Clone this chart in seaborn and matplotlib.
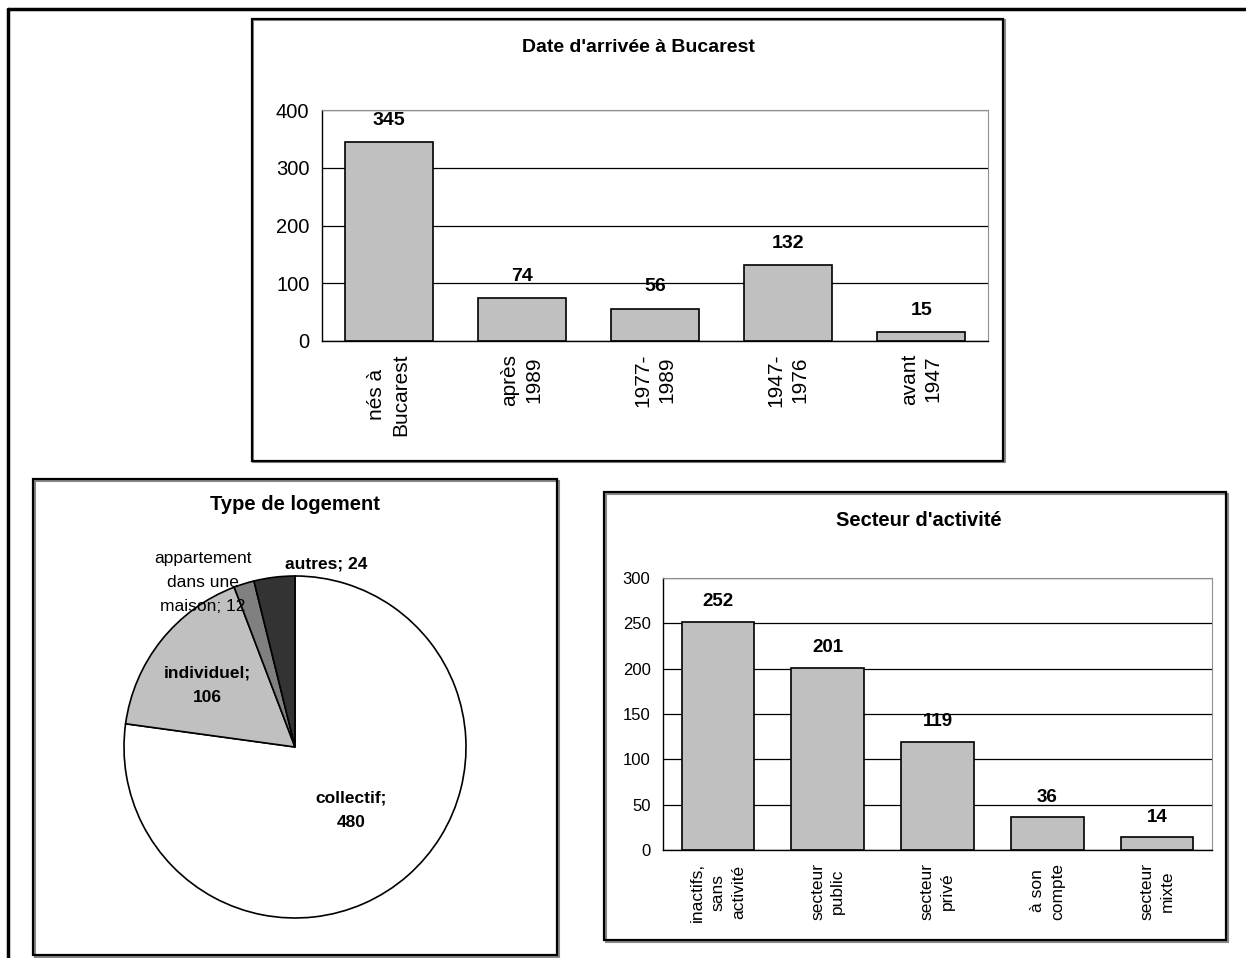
import matplotlib
matplotlib.use("Agg")
import matplotlib.pyplot as plt
from matplotlib.patches import Rectangle
from matplotlib.lines import Line2D
import seaborn as sns

# --- data ---
arrivee_cats = ["nés à\nBucarest", "après\n1989", "1977-\n1989", "1947-\n1976", "avant\n1947"]
arrivee_vals = [345, 74, 56, 132, 15]

logement_cats = ["collectif", "individuel", "appartement dans une maison", "autres"]
logement_vals = [480, 106, 12, 24]
logement_labels = ["collectif;\n480", "individuel;\n106", "appartement\ndans une\nmaison; 12", "autres; 24"]
logement_colors = ["#ffffff", "#c0c0c0", "#808080", "#333333"]

secteur_cats = ["inactifs,\nsans\nactivité", "secteur\npublic", "secteur\nprivé", "à son\ncompte", "secteur\nmixte"]
secteur_vals = [252, 201, 119, 36, 14]

sns.set_style("white")
plt.rcParams["font.family"] = ["Liberation Sans", "DejaVu Sans"]
plt.rcParams["text.color"] = "black"
plt.rcParams["xtick.color"] = "black"
plt.rcParams["ytick.color"] = "black"

W, H = 1246, 958
fig = plt.figure(figsize=(W / 100, H / 100), dpi=100)


def px_axes(l, t, r, b):
    return fig.add_axes([l / W, 1 - b / H, (r - l) / W, (b - t) / H])


def frame(l, t, r, b):
    fig.patches.append(Rectangle((l / W + 1.5 / W, 1 - b / H - 1.5 / H), (r - l) / W, (b - t) / H,
                                 transform=fig.transFigure, fill=False, ec="#888888", lw=1.5))
    fig.patches.append(Rectangle((l / W, 1 - b / H), (r - l) / W, (b - t) / H,
                                 transform=fig.transFigure, fill=False, ec="black", lw=1.6))


def bar_panel(ax, cats, vals, ymax, step, tick_fs, lab_fs, val_fs, pad, ypad, lsp):
    sns.barplot(x=list(range(len(cats))), y=vals, color="#c0c0c0", saturation=1,
                edgecolor="black", linewidth=1.2, width=0.66, ax=ax)
    ax.set_ylim(0, ymax)
    ax.set_xlim(-0.5, len(cats) - 0.5)
    ax.set_yticks(range(0, ymax + 1, step))
    ax.yaxis.grid(True, color="black", lw=0.9)
    ax.set_axisbelow(True)
    for s in ["top", "right"]:
        ax.spines[s].set_color("#909090")
    for s in ["left", "bottom"]:
        ax.spines[s].set_color("black")
        ax.spines[s].set_linewidth(1.0)
    ax.set_xticks(range(len(cats)))
    ax.set_xticklabels(cats, rotation=90, ha="center", va="top", fontsize=lab_fs,
                       multialignment="center", linespacing=lsp)
    ax.set_xticks([i - 0.5 for i in range(len(cats) + 1)], minor=True)
    ax.tick_params(axis="x", which="major", length=0, pad=9)
    ax.tick_params(axis="x", which="minor", length=7, width=1, color="black", direction="out")
    ax.tick_params(axis="y", length=5, width=1, color="black", direction="out", labelsize=tick_fs, pad=ypad)
    ax.set_xlabel("")
    ax.set_ylabel("")
    ax.bar_label(ax.containers[0], padding=pad, fontsize=val_fs, fontweight="bold")


# outer frame (top and left lines)
fig.lines.append(Line2D([8 / W, 8 / W], [0, 1 - 9 / H], transform=fig.transFigure, color="black", lw=2.5))
fig.lines.append(Line2D([8 / W, 1], [1 - 9 / H, 1 - 9 / H], transform=fig.transFigure, color="black", lw=2.5))

# panel frames
frame(252, 19, 1003, 461)
frame(33, 479, 557, 955)
frame(604, 492, 1226, 940)

# top chart
ax1 = px_axes(322, 110, 988, 341)
bar_panel(ax1, arrivee_cats, arrivee_vals, 400, 100, 14.5, 15, 14, 9.5, 4, 1.32)
fig.text(638 / W, 1 - 47 / H, "Date d'arrivée à Bucarest", ha="center", va="center",
         fontsize=14, fontweight="bold")

# bottom right chart
ax3 = px_axes(663, 578, 1212, 850)
bar_panel(ax3, secteur_cats, secteur_vals, 300, 50, 12, 12.5, 13.5, 8.5, 4, 1.45)
fig.text(919 / W, 1 - 521 / H, "Secteur d'activité", ha="center", va="center",
         fontsize=14.5, fontweight="bold")

# pie
ax2 = px_axes(124, 576, 466, 918)
ax2.pie(logement_vals, colors=logement_colors, startangle=90, counterclock=False,
        wedgeprops=dict(edgecolor="black", linewidth=1.2), radius=1)
ax2.set_xlim(-1.0, 1.0)
ax2.set_ylim(-1.0, 1.0)
ax2.set_aspect("equal")
pie_pos = [(0.33, -0.37), (-0.51, 0.36), (-0.54, 0.96), (0.18, 1.07)]
pie_bold = [True, True, False, True]
for lab, (x, y), b in zip(logement_labels, pie_pos, pie_bold):
    ax2.text(x, y, lab, ha="center", va="center", fontsize=12.5,
             fontweight="bold" if b else "normal", linespacing=1.75, clip_on=False)
fig.text(295 / W, 1 - 504 / H, "Type de logement", ha="center", va="center",
         fontsize=14.5, fontweight="bold")

fig.savefig("out.png", dpi=100, facecolor="white")
